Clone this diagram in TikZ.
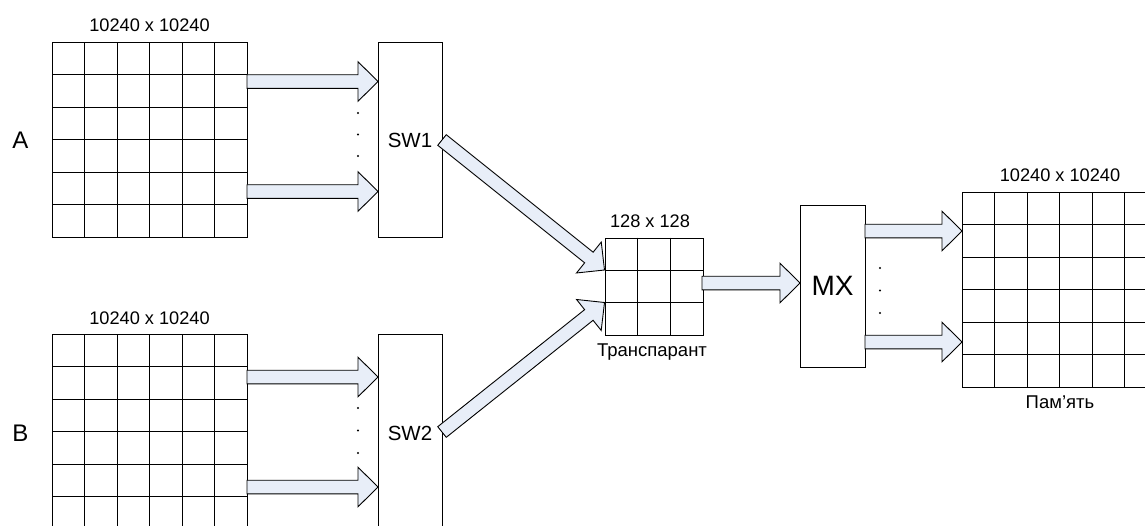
\documentclass[tikz,border=0pt]{standalone}
\usepackage{fontspec}
\setmainfont{Liberation Sans}
\usetikzlibrary{calc}
\definecolor{arrowfill}{RGB}{232,238,248}
\tikzset{
  box/.style={draw, line width=0.9pt, rectangle, inner sep=0pt, fill=white},
  gridln/.style={line width=0.9pt},
  barrowstyle/.style={draw, line width=0.9pt, fill=arrowfill, line join=miter},
  lbl/.style={font=\fontsize{18.2}{20}\selectfont, inner sep=0pt},
  swlbl/.style={font=\fontsize{20.5}{22}\selectfont, inner sep=0pt},
  smalllbl/.style={font=\fontsize{18.5}{20}\selectfont, inner sep=0pt},
  biglbl/.style={font=\fontsize{24}{26}\selectfont, inner sep=0pt},
  mxlbl/.style={font=\fontsize{28}{30}\selectfont, inner sep=0pt},
  dotmark/.style={circle, fill=black, inner sep=0pt, minimum size=2.2pt}
}
\newcommand\barrow[2]{%
  \coordinate (ba-h) at ($(#2)!20pt!(#1)$);
  \draw[barrowstyle] ($(#1)!6.8pt!90:(#2)$) -- ($(ba-h)!6.8pt!90:(#2)$) -- ($(ba-h)!19.8pt!90:(#2)$) -- (#2) -- ($(ba-h)!19.8pt!-90:(#2)$) -- ($(ba-h)!6.8pt!-90:(#2)$) -- ($(#1)!6.8pt!-90:(#2)$) -- cycle;}
\newcommand\mkgrid[4]{% name, x, y, n cells
  \node[box, minimum width=#4*32.5pt, minimum height=#4*32.5pt, anchor=north west] (#1) at (#2,#3) {};
  \pgfmathtruncatemacro\gridlast{#4-1}
  \foreach \k in {1,...,\gridlast} {
    \draw[gridln] ($(#1.north west)+(\k*32.5,0)$) -- ($(#1.south west)+(\k*32.5,0)$);
    \draw[gridln] ($(#1.north west)+(0,\k*32.5)$) -- ($(#1.north east)+(0,\k*32.5)$);
  }}
\begin{document}
\begin{tikzpicture}[x=1pt,y=-1pt]
\useasboundingbox (0,0) rectangle (1145,525);
\clip (0,0) rectangle (1145,525);
\fill[white] (0,0) rectangle (1145,525);

% grids
\mkgrid{gA}{52}{42}{6}
\mkgrid{gB}{52}{334}{6}
\mkgrid{gT}{605}{237.5}{3}
\mkgrid{gM}{962}{192}{6}

% boxes
\node[box, minimum width=64pt, minimum height=195pt, anchor=north west] (sw1) at (378,42) {};
\node[box, minimum width=64pt, minimum height=195pt, anchor=north west] (sw2) at (378,334) {};
\node[box, minimum width=65pt, minimum height=162pt, anchor=north west] (mx) at (800,205) {};

% labels
\node[lbl] (labA) at (149.5,25) {10240 x 10240};
\node[lbl] (labB) at (149.5,318) {10240 x 10240};
\node[lbl] (labM) at (1060,175) {10240 x 10240};
\node[lbl] (labT) at (650,221) {128 x 128};
\node[smalllbl] (labTr) at (652,352) {Транспарант};
\node[smalllbl] (labMem) at (1060,402) {Пам’ять};
\node[biglbl] (letA) at (20.5,140) {A};
\node[biglbl] (letB) at (20.5,433) {B};
\node[swlbl] (t1) at (410,140) {SW1};
\node[swlbl] (t2) at (410,433) {SW2};
\node[mxlbl] (tmx) at (832.5,286) {MX};

% arrow end points
\coordinate (a1s) at (247,81.5);   \coordinate (a1e) at (sw1.west |- a1s);
\coordinate (a2s) at (247,191.5);  \coordinate (a2e) at (sw1.west |- a2s);
\coordinate (b1s) at (247,377);    \coordinate (b1e) at (sw2.west |- b1s);
\coordinate (b2s) at (247,487);    \coordinate (b2e) at (sw2.west |- b2s);
\coordinate (d1s) at (442,140);    \coordinate (d1e) at (604.5,270);
\coordinate (d2s) at (442,432);    \coordinate (d2e) at (604.5,302.5);
\coordinate (ts) at (702,283);     \coordinate (te) at (mx.west |- ts);
\coordinate (m1s) at (865,231);    \coordinate (m1e) at (gM.west |- m1s);
\coordinate (m2s) at (865,342);    \coordinate (m2e) at (gM.west |- m2s);

\barrow{a1s}{a1e}
\barrow{a2s}{a2e}
\barrow{b1s}{b1e}
\barrow{b2s}{b2e}
\barrow{d1s}{d1e}
\barrow{d2s}{d2e}
\barrow{ts}{te}
\barrow{m1s}{m1e}
\barrow{m2s}{m2e}

% dots
\foreach \yy [count=\c] in {113,134.5,156} \node[dotmark] (da\c) at (358,\yy) {};
\foreach \yy [count=\c] in {408,430.5,453} \node[dotmark] (db\c) at (358,\yy) {};
\foreach \yy [count=\c] in {268,290.5,313} \node[dotmark] (dm\c) at (880,\yy) {};
\end{tikzpicture}
\end{document}
